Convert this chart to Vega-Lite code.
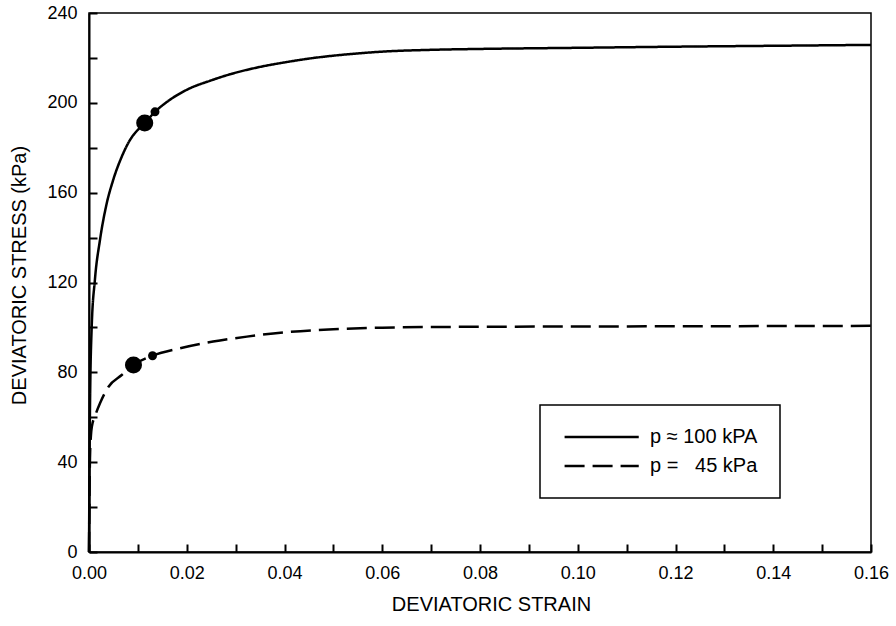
{
  "$schema": "https://vega.github.io/schema/vega-lite/v6.json",
  "width": 782,
  "height": 539,
  "autosize": {"type": "none"},
  "padding": {"left": 89, "top": 13, "right": 25, "bottom": 74},
  "background": "white",
  "config": {
    "font": "Liberation Sans",
    "view": {"stroke": "black", "strokeWidth": 1.5},
    "axis": {
      "grid": false,
      "zindex": 1,
      "domainColor": "black",
      "domainWidth": 2,
      "ticks": true,
      "tickColor": "black",
      "tickWidth": 2,
      "tickOpacity": 1,
      "tickSize": -8,
      "labelPadding": 20,
      "labelFont": "Liberation Sans",
      "labelFontSize": 18,
      "labelColor": "black",
      "labelFlush": false,
      "labelOverlap": false,
      "titleFont": "Liberation Sans",
      "titleFontSize": 20,
      "titleFontWeight": "normal",
      "titleColor": "black"
    }
  },
  "datasets": {
    "curves": [
      {"series": "p ≈ 100 kPA", "strain": 0, "stress": 0},
      {"series": "p ≈ 100 kPA", "strain": 0.0001, "stress": 35},
      {"series": "p ≈ 100 kPA", "strain": 0.0002, "stress": 64},
      {"series": "p ≈ 100 kPA", "strain": 0.00055, "stress": 100},
      {"series": "p ≈ 100 kPA", "strain": 0.0012, "stress": 121},
      {"series": "p ≈ 100 kPA", "strain": 0.00225, "stress": 139},
      {"series": "p ≈ 100 kPA", "strain": 0.0035, "stress": 154},
      {"series": "p ≈ 100 kPA", "strain": 0.005, "stress": 166},
      {"series": "p ≈ 100 kPA", "strain": 0.0067, "stress": 176},
      {"series": "p ≈ 100 kPA", "strain": 0.0084, "stress": 183.5},
      {"series": "p ≈ 100 kPA", "strain": 0.01, "stress": 188},
      {"series": "p ≈ 100 kPA", "strain": 0.0114, "stress": 191},
      {"series": "p ≈ 100 kPA", "strain": 0.0135, "stress": 196},
      {"series": "p ≈ 100 kPA", "strain": 0.016, "stress": 200.5},
      {"series": "p ≈ 100 kPA", "strain": 0.02, "stress": 205.8},
      {"series": "p ≈ 100 kPA", "strain": 0.025, "stress": 210},
      {"series": "p ≈ 100 kPA", "strain": 0.029, "stress": 212.8},
      {"series": "p ≈ 100 kPA", "strain": 0.035, "stress": 216},
      {"series": "p ≈ 100 kPA", "strain": 0.04, "stress": 218},
      {"series": "p ≈ 100 kPA", "strain": 0.045, "stress": 219.7},
      {"series": "p ≈ 100 kPA", "strain": 0.05, "stress": 221},
      {"series": "p ≈ 100 kPA", "strain": 0.055, "stress": 222},
      {"series": "p ≈ 100 kPA", "strain": 0.06, "stress": 222.8},
      {"series": "p ≈ 100 kPA", "strain": 0.07, "stress": 223.6},
      {"series": "p ≈ 100 kPA", "strain": 0.08, "stress": 224},
      {"series": "p ≈ 100 kPA", "strain": 0.1, "stress": 224.5},
      {"series": "p ≈ 100 kPA", "strain": 0.12, "stress": 225},
      {"series": "p ≈ 100 kPA", "strain": 0.14, "stress": 225.4},
      {"series": "p ≈ 100 kPA", "strain": 0.16, "stress": 225.8},
      {"series": "p =\u00a0\u00a0\u00a045 kPa", "strain": 0, "stress": 0},
      {"series": "p =\u00a0\u00a0\u00a045 kPa", "strain": 0.0001, "stress": 25},
      {"series": "p =\u00a0\u00a0\u00a045 kPa", "strain": 0.0002, "stress": 42},
      {"series": "p =\u00a0\u00a0\u00a045 kPa", "strain": 0.0004, "stress": 52},
      {"series": "p =\u00a0\u00a0\u00a045 kPa", "strain": 0.0006, "stress": 56},
      {"series": "p =\u00a0\u00a0\u00a045 kPa", "strain": 0.0012, "stress": 60.3},
      {"series": "p =\u00a0\u00a0\u00a045 kPa", "strain": 0.00225, "stress": 66.2},
      {"series": "p =\u00a0\u00a0\u00a045 kPa", "strain": 0.004, "stress": 73.6},
      {"series": "p =\u00a0\u00a0\u00a045 kPa", "strain": 0.0067, "stress": 78.8},
      {"series": "p =\u00a0\u00a0\u00a045 kPa", "strain": 0.0091, "stress": 83.3},
      {"series": "p =\u00a0\u00a0\u00a045 kPa", "strain": 0.013, "stress": 87.4},
      {"series": "p =\u00a0\u00a0\u00a045 kPa", "strain": 0.0186, "stress": 90.7},
      {"series": "p =\u00a0\u00a0\u00a045 kPa", "strain": 0.0254, "stress": 93.7},
      {"series": "p =\u00a0\u00a0\u00a045 kPa", "strain": 0.0323, "stress": 95.9},
      {"series": "p =\u00a0\u00a0\u00a045 kPa", "strain": 0.04, "stress": 97.8},
      {"series": "p =\u00a0\u00a0\u00a045 kPa", "strain": 0.05, "stress": 99.2},
      {"series": "p =\u00a0\u00a0\u00a045 kPa", "strain": 0.06, "stress": 99.9},
      {"series": "p =\u00a0\u00a0\u00a045 kPa", "strain": 0.08, "stress": 100.3},
      {"series": "p =\u00a0\u00a0\u00a045 kPa", "strain": 0.1, "stress": 100.4},
      {"series": "p =\u00a0\u00a0\u00a045 kPa", "strain": 0.12, "stress": 100.5},
      {"series": "p =\u00a0\u00a0\u00a045 kPa", "strain": 0.14, "stress": 100.6},
      {"series": "p =\u00a0\u00a0\u00a045 kPa", "strain": 0.16, "stress": 100.7}
    ],
    "dots": [
      {"marker": "large", "strain": 0.0114, "stress": 191},
      {"marker": "small", "strain": 0.0135, "stress": 196},
      {"marker": "large", "strain": 0.0091, "stress": 83.3},
      {"marker": "small", "strain": 0.013, "stress": 87.4}
    ]
  },
  "layer": [
    {
      "data": {"name": "curves"},
      "mark": {"type": "line", "color": "black", "strokeWidth": 2.5, "interpolate": "monotone"},
      "encoding": {
        "x": {
          "field": "strain",
          "type": "quantitative",
          "scale": {"domain": [0, 0.16], "nice": false, "zero": false},
          "axis": {
            "title": "DEVIATORIC STRAIN",
            "titlePadding": 12,
            "titleX": 402,
            "values": [0, 0.01, 0.02, 0.03, 0.04, 0.05, 0.06, 0.07, 0.08, 0.09, 0.1, 0.11, 0.12, 0.13, 0.14, 0.15, 0.16],
            "labelExpr": "round(datum.value * 100) % 2 == 0 ? format(datum.value, '.2f') : ''",
            "encode": {"ticks": {"update": {"y2": {"value": -9}, "opacity": {"value": 1}, "stroke": {"value": "black"}, "strokeWidth": {"value": 2.5}}}}
          }
        },
        "y": {
          "field": "stress",
          "type": "quantitative",
          "scale": {"domain": [0, 240], "nice": false},
          "axis": {
            "title": "DEVIATORIC STRESS (kPa)",
            "titlePadding": 17,
            "titleY": 262,
            "values": [0, 20, 40, 60, 80, 100, 120, 140, 160, 180, 200, 220, 240],
            "labelExpr": "round(datum.value) % 40 == 0 ? format(datum.value, 'd') : ''",
            "encode": {"ticks": {"update": {"x2": {"value": 8}, "opacity": {"value": 1}, "stroke": {"value": "black"}, "strokeWidth": {"value": 2.5}}}}
          }
        },
        "strokeDash": {
          "field": "series",
          "type": "nominal",
          "scale": {"domain": ["p ≈ 100 kPA", "p =\u00a0\u00a0\u00a045 kPa"], "range": [[1, 0], [20, 8]]},
          "legend": {
            "orient": "none",
            "legendX": 451,
            "legendY": 392,
            "title": null,
            "symbolType": "M-1,0H9",
            "symbolSize": 220,
            "symbolStrokeWidth": 2.5,
            "symbolStrokeColor": "black",
            "symbolFillColor": "transparent",
            "labelFont": "Liberation Sans",
            "labelFontSize": 20,
            "labelColor": "black",
            "labelLimit": 300,
            "labelOffset": 68,
            "strokeColor": "black",
            "fillColor": "white",
            "padding": 22,
            "rowPadding": 9,
            "encode": {"legend": {"update": {"strokeWidth": {"value": 1.5}}}}
          }
        }
      }
    },
    {
      "data": {"name": "dots"},
      "mark": {"type": "circle", "color": "black", "opacity": 1},
      "encoding": {
        "x": {"field": "strain", "type": "quantitative"},
        "y": {"field": "stress", "type": "quantitative"},
        "size": {
          "field": "marker",
          "type": "ordinal",
          "scale": {"domain": ["large", "small"], "range": [290, 80]},
          "legend": null
        }
      }
    }
  ]
}
